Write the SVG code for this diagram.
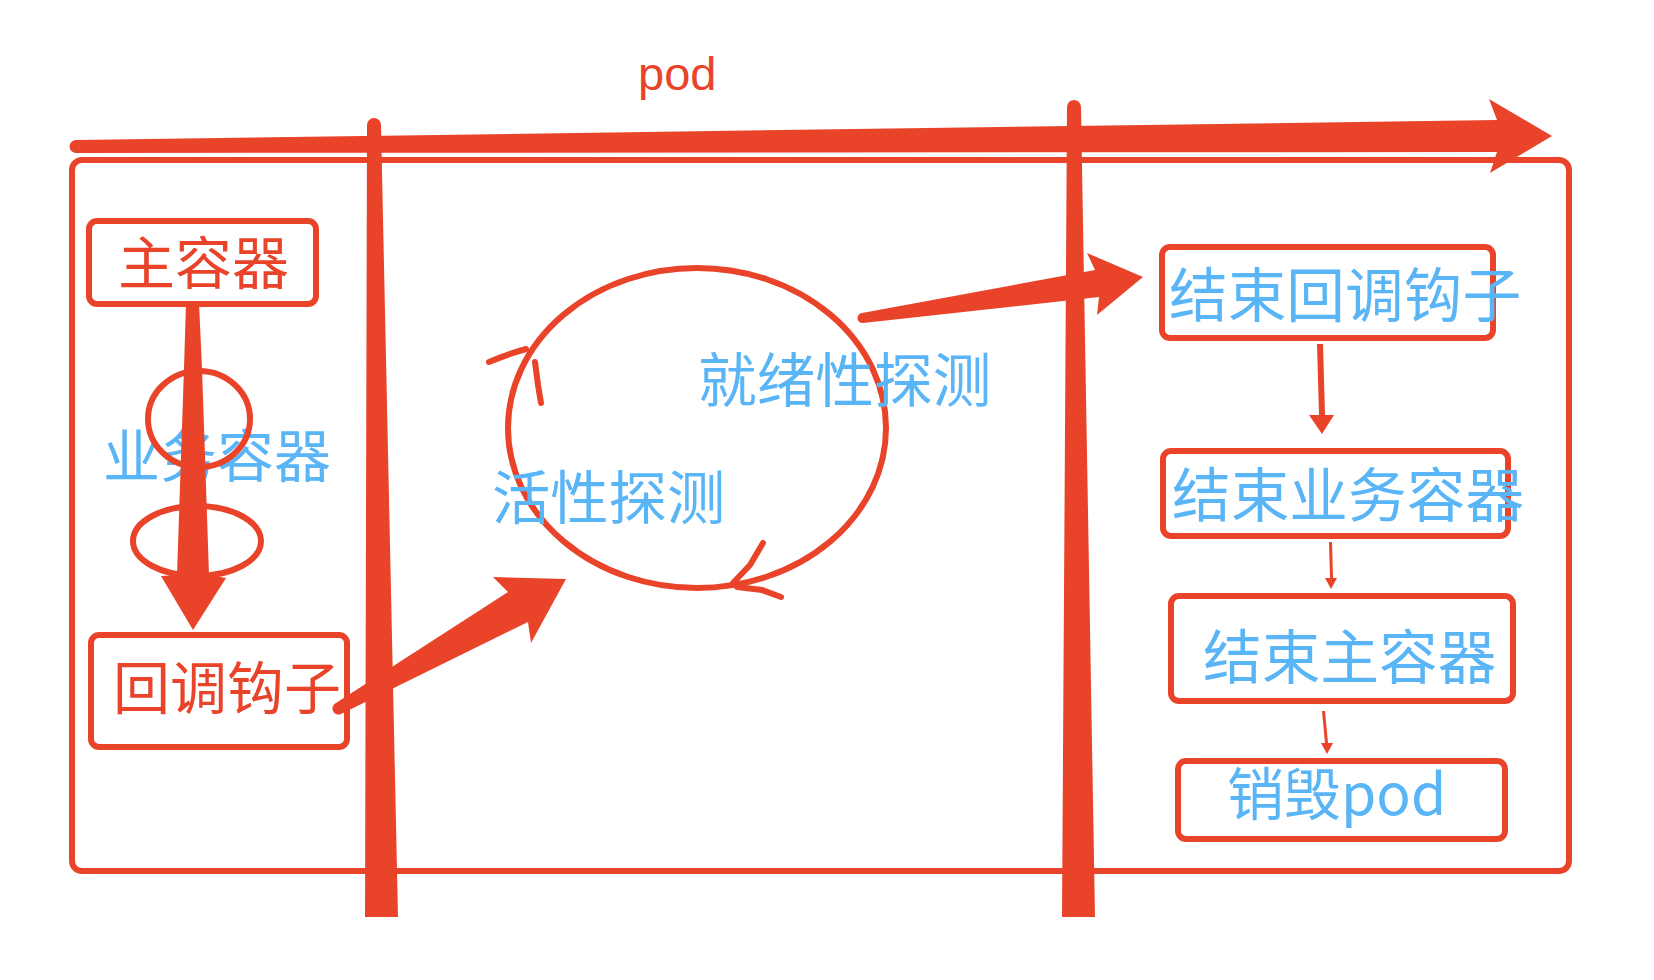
<svg xmlns="http://www.w3.org/2000/svg" width="1654" height="980" viewBox="0 0 1654 980">
<style>
.box{fill:none;stroke:#E9432A;stroke-width:6;stroke-linejoin:round}
.ln{fill:none;stroke:#E9432A;stroke-width:6;stroke-linecap:round}
.fill{fill:#E9432A;stroke:none}
.cn{font-family:"Noto Sans CJK SC","Liberation Sans",sans-serif}
.red{fill:#E9432A}
.blue{fill:#5AB5F7}
</style>
<rect width="1654" height="980" fill="#ffffff"/>
<g id="pod-frame">
<rect class="box" x="72" y="160" width="1497" height="711" rx="10"/>
<text x="638" y="90" font-family="'Liberation Sans',Arial,sans-serif" font-size="47" class="red">pod</text>
</g>
<g id="main-container">
<rect class="box" x="89" y="221" width="227" height="83" rx="8"/>
<text class="cn red" x="118" y="284" font-size="57">主容器</text>
</g>
<g id="business-container">
<text class="cn blue" x="103" y="477" font-size="57">业务容器</text>
<ellipse class="ln" cx="199" cy="419" rx="51" ry="48"/>
<ellipse class="ln" cx="197" cy="541" rx="64" ry="35"/>
</g>
<g id="callback-hook">
<rect class="box" x="91" y="635" width="256" height="112" rx="8"/>
<text class="cn red" x="113" y="709" font-size="57">回调钩子</text>
</g>
<g id="probe-loop">
<ellipse class="ln" cx="697" cy="428" rx="189" ry="160"/>
<path class="ln" d="M489,362 Q508,354 526,349"/>
<path class="ln" d="M535,362 L538,385 L541,403"/>
<path class="ln" d="M763,543 L750,565 L733,583"/>
<path class="ln" d="M737,587 L762,590 L781,597"/>
<text class="cn blue" x="698" y="402" font-size="58.7">就绪性探测</text>
<text class="cn blue" x="492" y="519" font-size="58.3">活性探测</text>
</g>
<g id="end-hook">
<rect class="box" x="1162" y="247" width="331" height="91" rx="8"/>
<text class="cn blue" x="1169" y="317" font-size="58.7">结束回调钩子</text>
</g>
<g id="end-business">
<rect class="box" x="1163" y="451" width="345" height="85" rx="8"/>
<text class="cn blue" x="1172" y="517" font-size="58.7">结束业务容器</text>
</g>
<g id="end-main">
<rect class="box" x="1171" y="596" width="342" height="105" rx="8"/>
<text class="cn blue" x="1203" y="679" font-size="58.7">结束主容器</text>
</g>
<g id="destroy-pod">
<rect class="box" x="1178" y="761" width="327" height="78" rx="8"/>
<text class="cn blue" x="1227" y="815" font-size="57">销毁pod</text>
</g>
<g id="connectors">
<path class="fill" d="M76,153 A6.5,6.5 0 0 1 76,140 L1497,120 L1489,99 L1552,136 L1490,173 L1497,152 Z"/>
<path class="fill" d="M365,917 L367,125 A7,7 0 0 1 381,125 L398,917 Z"/>
<path class="fill" d="M1062,917 L1067,107 A7,7 0 0 1 1081,107 L1095,917 Z"/>
<path class="fill" d="M186,303 L199,303 L202,368 L209,575 L226,578 L193,630 L161,576 L177,575 L184,368 Z"/>
<path class="fill" d="M336,703 L508,592 L493,577 L566,579 L531,643 L528,622 L341,714 A5.5,5.5 0 0 1 336,703 Z"/>
<path class="fill" d="M862,313 L1095,270 L1087,253 L1143,277 L1097,315 L1099,297 L863,323 A5,5 0 0 1 862,313 Z"/>
<path class="fill" d="M1317,344 L1323,344 L1325,415 L1334,415 L1322,434 L1309,415 L1319,415 Z"/>
<path class="fill" d="M1329,542 L1332,542 L1333,578 L1337,578 L1331,589 L1325,578 L1330,578 Z"/>
<path class="fill" d="M1322,711 L1325,711 L1328,743 L1333,743 L1327,754 L1321,743 L1325,743 Z"/>
</g>
</svg>
